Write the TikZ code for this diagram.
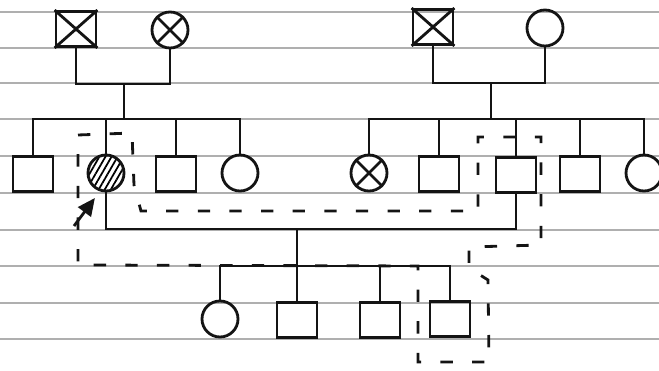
\documentclass[tikz,border=0pt]{standalone}
\usepackage{xcolor}
\definecolor{pedink}{RGB}{20,20,20}
\definecolor{pedrule}{RGB}{175,175,175}
\usepackage{tikz}
\usetikzlibrary{arrows.meta,patterns.meta}

\begin{document}
\begin{tikzpicture}[x=0.02cm,y=-0.02cm,
  pedmale/.style={draw=pedink,line width=1.6pt,minimum width=0.8cm,minimum height=0.7cm,inner sep=0pt},
  pedfemale/.style={draw=pedink,line width=1.6pt,circle,minimum size=0.72cm,inner sep=0pt},
  pedline/.style={pedink,line width=1.6pt},
  peddash/.style={pedink,line width=1.6pt,dash pattern=on 7pt off 11pt},
  pedarr/.style={-{Triangle[length=10pt,width=9pt]},pedink,line width=1.6pt}
]
  \fill[white] (0,0) rectangle (659,371);
  \useasboundingbox (0,0) rectangle (659,371);

  % Ruled paper
  \foreach \y in {12,48,83,119,156,193,230,266,303,339}
    \draw[pedrule,line width=0.6pt] (0,\y) -- (659,\y);

  % Generation I: both couples
  \node[pedmale] (gpaL) at (76,29) {};
  \node[pedfemale] (gmaL) at (170,30) {};
  \node[pedmale] (gpaR) at (433,27) {};
  \node[pedfemale] (gmaR) at (545,28) {};

  % Generation II: left sibship
  \node[pedmale] (sibL1) at (33,174) {};
  \node[pedfemale,pattern={Lines[angle=60,distance=3pt,line width=1pt]}] (proband) at (106,173) {};
  \node[pedmale] (sibL3) at (176,174) {};
  \node[pedfemale] (sibL4) at (240,173) {};

  % Generation II: right sibship
  \node[pedfemale] (sibR1) at (369,173) {};
  \node[pedmale] (sibR2) at (439,174) {};
  \node[pedmale] (spouse) at (516,175) {};
  \node[pedmale] (sibR4) at (580,174) {};
  \node[pedfemale] (sibR5) at (644,173) {};

  % Generation III
  \node[pedfemale] (kid1) at (220,319) {};
  \node[pedmale] (kid2) at (297,320) {};
  \node[pedmale] (kid3) at (380,320) {};
  \node[pedmale] (kid4) at (450,319) {};

  % Crossed symbols
  \foreach \n in {gpaL,gmaL,gpaR,sibR1}
    \draw[pedline] (\n.north west) -- (\n.south east) (\n.north east) -- (\n.south west);

  % Mating and sibship lines
  \coordinate (mateL) at (124,84);
  \coordinate (sibshipL) at (124,119);
  \coordinate (mateR) at (491,83);
  \coordinate (sibshipR) at (491,119);
  \coordinate (mateP) at (297,229);
  \coordinate (sibshipP) at (297,266);

  \draw[pedline] (gpaL.south) |- (mateL) -| (gmaL.south);
  \draw[pedline] (mateL) -- (sibshipL);
  \draw[pedline] (sibL1.north) |- (sibshipL) -| (sibL4.north);
  \foreach \n in {proband,sibL3}
    \draw[pedline] (\n.north) -- (\n.north |- sibshipL);

  \draw[pedline] (gpaR.south) |- (mateR) -| (gmaR.south);
  \draw[pedline] (mateR) -- (sibshipR);
  \draw[pedline] (sibR1.north) |- (sibshipR) -| (sibR5.north);
  \foreach \n in {sibR2,spouse,sibR4}
    \draw[pedline] (\n.north) -- (\n.north |- sibshipR);

  \draw[pedline] (proband.south) |- (mateP) -| (spouse.south);
  \draw[pedline] (mateP) -- (sibshipP) -- (kid2.north);
  \draw[pedline] (kid1.north) |- (sibshipP) -| (kid4.north);
  \draw[pedline] (kid3.north) -- (kid3.north |- sibshipP);

  % Dashed trace
  \draw[peddash] (78,135) -- (132,133) -- (134,185) -- (141,211) -- (478,211)
    -- (478,137) -- (541,137) -- (541,245) -- (469,247) -- (469,268)
    -- (488,280) -- (489,362) -- (418,362) -- (418,266) -- (78,265) -- cycle;

  % Proband arrow
  \coordinate (arwtail) at (74,226);
  \draw[pedarr,shorten >=5pt] (arwtail) -- (proband.252);
\end{tikzpicture}
\end{document}
